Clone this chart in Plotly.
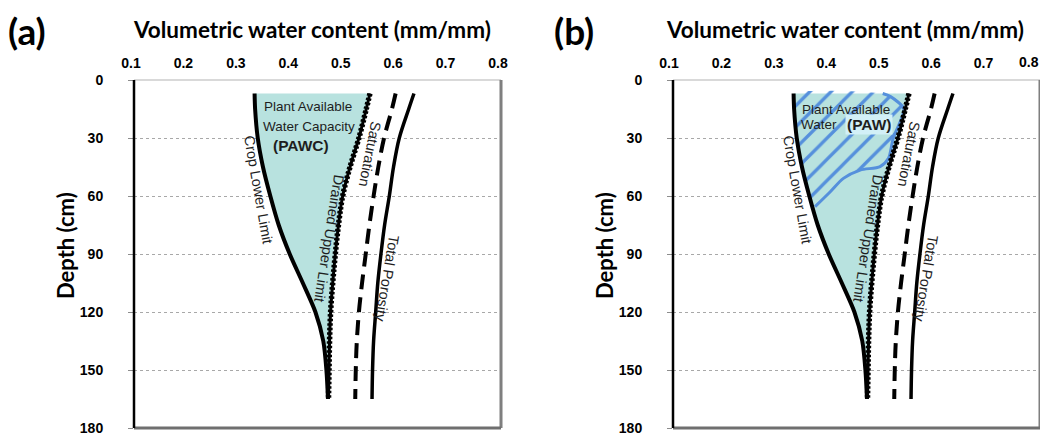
import plotly.graph_objects as go

# ---------------- data ----------------
depth = [7, 15, 30, 45, 60, 75, 90, 105, 120, 135, 150, 165]
crop_lower_limit = [0.330, 0.331, 0.336, 0.346, 0.360, 0.376, 0.397, 0.422, 0.446, 0.461, 0.467, 0.470]
drained_upper_limit = [0.550, 0.543, 0.529, 0.512, 0.498, 0.490, 0.484, 0.479, 0.475, 0.473, 0.472, 0.471]
saturation = [0.599, 0.592, 0.577, 0.566, 0.557, 0.549, 0.542, 0.535, 0.529, 0.525, 0.523, 0.522]
total_porosity = [0.634, 0.624, 0.606, 0.595, 0.587, 0.578, 0.571, 0.565, 0.561, 0.557, 0.555, 0.554]

# boundary of the "Plant Available Water" (PAW) region in panel (b)
paw_boundary_depth = [7.0, 8.6, 14.7, 19.8, 30.2, 40.5, 44.8, 46.6, 50.9, 57.8, 65.5]
paw_boundary_vwc = [0.500, 0.515, 0.540, 0.536, 0.520, 0.511, 0.495, 0.457, 0.425, 0.400, 0.371]

x_ticks = [0.1, 0.2, 0.3, 0.4, 0.5, 0.6, 0.7, 0.8]
x_ticktext = ["0.1", "0.2", "0.3", "0.4", "0.5", "0.6", "0.7", "0.8"]
y_ticks = [0, 30, 60, 90, 120, 150, 180]
y_ticktext = ["0", "30", "60", "90", "120", "150", "180"]

# the page body has an 8px margin, so the figure is drawn 8px in from the corner
OFF = 8
W, H = 1048 - OFF, 436 - OFF
FILL = "#b8e2df"
BLUE = "#5590dc"
TXT = "#1e1e1e"


def px(x):
    return (x - OFF) / W


def py(y):
    return 1 - (y - OFF) / H


fig = go.Figure()

panels = [("x", "y"), ("x2", "y2")]

for i, (xa, ya) in enumerate(panels):
    # PAWC fill between crop lower limit and drained upper limit
    fig.add_trace(go.Scatter(
        x=crop_lower_limit + drained_upper_limit[::-1],
        y=depth + depth[::-1],
        fill="toself", fillcolor=FILL, mode="lines",
        line=dict(width=0, shape="spline", smoothing=0.8),
        xaxis=xa, yaxis=ya, hoverinfo="skip", showlegend=False))

    if i == 1:
        # hatched PAW region
        n_cll = sum(1 for d in depth if d <= 60)
        poly_x = [crop_lower_limit[0]] + paw_boundary_vwc + crop_lower_limit[:n_cll][::-1]
        poly_y = [depth[0]] + paw_boundary_depth + depth[:n_cll][::-1]
        fig.add_trace(go.Scatter(
            x=poly_x, y=poly_y, fill="toself", mode="lines",
            fillcolor="rgba(0,0,0,0)",
            fillpattern=dict(shape="/", fgcolor=BLUE, bgcolor="rgba(0,0,0,0)",
                             fgopacity=1, size=15, solidity=0.22),
            line=dict(width=0, shape="spline", smoothing=0.6),
            xaxis=xa, yaxis=ya, hoverinfo="skip", showlegend=False))
        fig.add_trace(go.Scatter(
            x=paw_boundary_vwc, y=paw_boundary_depth, mode="lines",
            line=dict(color=BLUE, width=3, shape="spline", smoothing=0.8),
            xaxis=xa, yaxis=ya, hoverinfo="skip", showlegend=False))

    fig.add_trace(go.Scatter(
        x=crop_lower_limit, y=depth, mode="lines",
        line=dict(color="black", width=4, shape="spline", smoothing=0.8),
        xaxis=xa, yaxis=ya, showlegend=False, name="Crop Lower Limit"))
    # drained upper limit: solid core with a fine notched edge
    fig.add_trace(go.Scatter(
        x=drained_upper_limit, y=depth, mode="lines",
        line=dict(color="black", width=3, shape="spline"),
        xaxis=xa, yaxis=ya, showlegend=False, name="Drained Upper Limit"))
    fig.add_trace(go.Scatter(
        x=drained_upper_limit, y=depth, mode="lines",
        line=dict(color="black", width=5.5, shape="spline", dash="2.5px,2px"),
        xaxis=xa, yaxis=ya, showlegend=False, hoverinfo="skip"))
    fig.add_trace(go.Scatter(
        x=saturation, y=depth, mode="lines",
        line=dict(color="black", width=4, shape="spline", dash="15px,8px"),
        xaxis=xa, yaxis=ya, showlegend=False, name="Saturation"))
    fig.add_trace(go.Scatter(
        x=total_porosity, y=depth, mode="lines",
        line=dict(color="black", width=3.5, shape="spline"),
        xaxis=xa, yaxis=ya, showlegend=False, name="Total Porosity"))

# ---------------- axes ----------------
dom_a = [px(134), px(501)]
dom_b = [px(673), px(1040)]
dom_y = [py(428), py(80)]

tickfont = dict(family="Liberation Sans", size=14, color="black", weight="bold")
xcommon = dict(range=[0.1, 0.8], side="top",
               showgrid=False, zeroline=False, showline=False,
               ticks="outside", ticklen=5, tickcolor="rgba(0,0,0,0)",
               ticklabeloverflow="allow", tickfont=tickfont,
               automargin=False, fixedrange=True)
ycommon = dict(range=[180, 0], tickvals=y_ticks, ticktext=y_ticktext,
               showgrid=True, gridcolor="#a8a8a8", gridwidth=1, griddash="3px,3px",
               zeroline=False, showline=False,
               ticks="outside", ticklen=5, tickcolor="#8c8c8c", ticklabelstandoff=22,
               tickfont=tickfont, automargin=False, fixedrange=True)

fig.update_layout(
    width=W, height=H, margin=dict(l=0, r=0, t=0, b=0),
    paper_bgcolor="white", plot_bgcolor="white",
    xaxis=dict(domain=dom_a, anchor="y", ticklabelshift=-3,
               tickvals=x_ticks, ticktext=x_ticktext, **xcommon),
    yaxis=dict(domain=dom_y, anchor="x", **ycommon),
    xaxis2=dict(domain=dom_b, anchor="y2", ticklabelshift=-4,
                tickvals=x_ticks[:-1], ticktext=x_ticktext[:-1], **xcommon),
    yaxis2=dict(domain=dom_y, anchor="x2", **ycommon),
)

# frame lines
shapes = []
for xa, ya in panels:
    xr, yr = f"{xa} domain", f"{ya} domain"
    shapes += [
        dict(type="line", xref=xr, yref=yr, x0=0, x1=1, y0=1, y1=1, line=dict(color="#d9d9d9", width=2)),
        dict(type="line", xref=xr, yref=yr, x0=1, x1=1, y0=0, y1=1, line=dict(color="#7f7f7f", width=3)),
        dict(type="line", xref=xr, yref=yr, x0=0, x1=1, y0=0, y1=0, line=dict(color="#6f6f6f", width=3)),
        dict(type="line", xref=xr, yref=yr, x0=0, x1=0, y0=0, y1=1, line=dict(color="black", width=2.5)),
    ]
fig.update_layout(shapes=shapes)

# ---------------- text ----------------
ann = []

# last tick label of panel (b), right-aligned at its tick so it stays inside the page
ann.append(dict(xref="x2", yref="paper", x=x_ticks[-1], y=py(61.5), text=x_ticktext[-1],
                showarrow=False, xanchor="right", yanchor="middle", xshift=1,
                font=tickfont))


def paper_text(x, y, text, size, angle=0, family="Lato"):
    ann.append(dict(xref="paper", yref="paper", x=px(x), y=py(y), text=text,
                    showarrow=False, textangle=angle, xanchor="center", yanchor="middle",
                    font=dict(family=family, size=size, color="black", weight="bold")))


paper_text(27, 31, "(a)", 37)
paper_text(574, 31, "(b)", 37)
paper_text(312, 30, "Volumetric water content (mm/mm)", 22.5)
paper_text(845, 30, "Volumetric water content (mm/mm)", 22.5)
paper_text(65, 246, "Depth (cm)", 22, angle=-90)
paper_text(604, 246, "Depth (cm)", 22, angle=-90)


def data_text(xa, ya, x, y, text, size=12, angle=0, bold=False, bg=None):
    d = dict(xref=xa, yref=ya, x=x, y=y, text=text, showarrow=False, textangle=angle,
             xanchor="center", yanchor="middle",
             font=dict(family="Liberation Sans", size=size, color=TXT,
                       weight="bold" if bold else "normal"))
    if bg:
        d["bgcolor"] = bg
        d["borderpad"] = 1
    ann.append(d)


for xa, ya in panels:
    data_text(xa, ya, 0.337, 57, "Crop Lower Limit", 14.5, 80)
    data_text(xa, ya, 0.473, 82, "Drained Upper Limit", 14.5, 99)
    data_text(xa, ya, 0.549, 38.5, "Saturation", 14.5, 101)
    data_text(xa, ya, 0.582, 102.6, "Total Porosity", 14.5, 99.5)

# panel (a) PAWC labels
data_text("x", "y", 0.432, 13.7, "Plant Available", 13.5)
data_text("x", "y", 0.434, 23.8, "Water Capacity", 13.5)
data_text("x", "y", 0.419, 33.9, "(PAWC)", 15.5, bold=True)

# panel (b) PAW labels
data_text("x2", "y2", 0.430, 15.0, "Plant Available", 13.5)
data_text("x2", "y2", 0.379, 23.0, "Water", 13.5)
data_text("x2", "y2", 0.474, 23.0, "(PAW)", 15.5, bold=True, bg="#d2f0f7")

fig.update_layout(annotations=ann)

fig.write_html("out.html")
